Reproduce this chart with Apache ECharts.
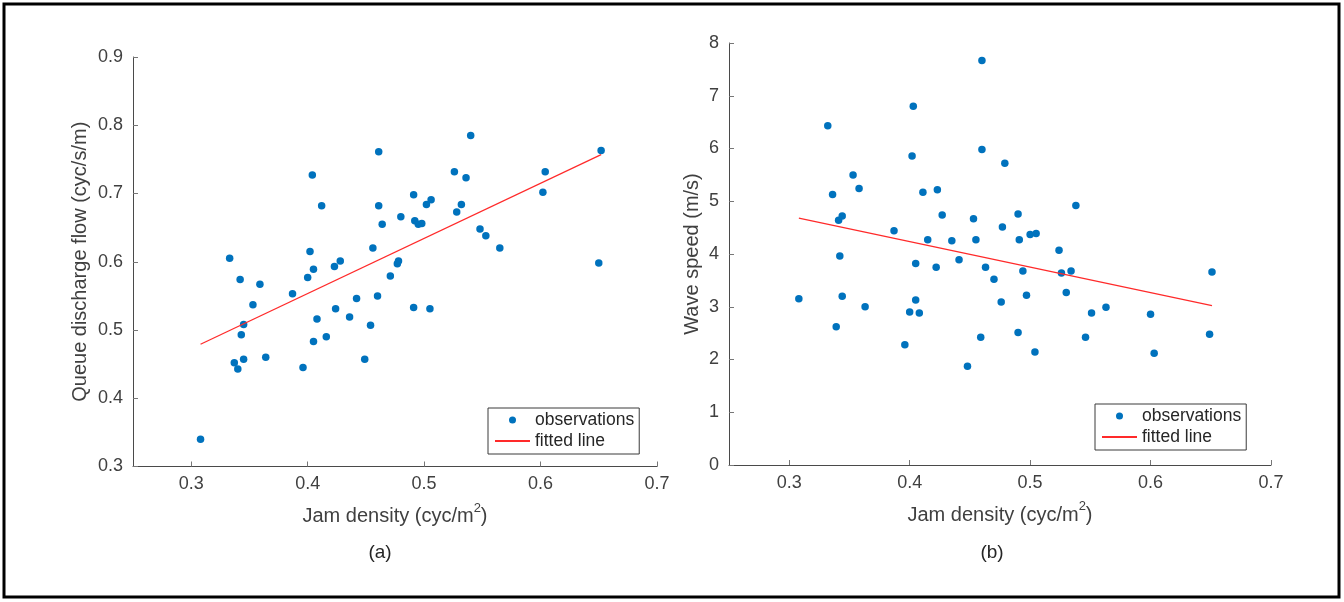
<!DOCTYPE html>
<html>
<head>
<meta charset="utf-8">
<script src="https://cdn.jsdelivr.net/npm/echarts@6/dist/echarts.min.js"></script>
<style>
html,body{margin:0;padding:0;background:#fff;}
#chart{width:1344px;height:602px;}
</style>
</head>
<body>
<div id="chart"></div>
<script>
// ---- data (a): queue discharge flow vs jam density ----
const densityA = [0.308,0.333,0.337,0.340,0.342,0.343,0.345,0.345,0.353,0.359,0.364,0.387,0.396,0.400,0.402,0.404,0.405,0.405,0.408,0.412,0.416,0.423,0.424,0.428,0.436,0.442,0.449,0.454,0.456,0.460,0.461,0.461,0.464,0.471,0.477,0.478,0.480,0.491,0.491,0.492,0.495,0.498,0.502,0.505,0.506,0.526,0.528,0.532,0.536,0.540,0.548,0.553,0.565,0.602,0.604,0.650,0.652];
const flowA    = [0.340,0.605,0.452,0.443,0.574,0.493,0.508,0.457,0.537,0.567,0.460,0.553,0.445,0.577,0.615,0.727,0.589,0.483,0.516,0.682,0.490,0.593,0.531,0.601,0.519,0.546,0.457,0.507,0.620,0.550,0.761,0.682,0.655,0.579,0.597,0.601,0.666,0.533,0.698,0.660,0.655,0.656,0.684,0.531,0.691,0.732,0.673,0.684,0.723,0.785,0.648,0.638,0.620,0.702,0.732,0.598,0.763];
const fitXA = [0.308, 0.652];
const fitYA = [0.479, 0.757];

// ---- data (b): wave speed vs jam density ----
const densityB = [0.308,0.332,0.336,0.339,0.341,0.342,0.344,0.344,0.353,0.358,0.363,0.387,0.396,0.400,0.402,0.403,0.405,0.405,0.408,0.411,0.415,0.422,0.423,0.427,0.435,0.441,0.448,0.453,0.455,0.459,0.460,0.460,0.463,0.470,0.476,0.477,0.479,0.490,0.490,0.491,0.494,0.497,0.500,0.504,0.505,0.524,0.526,0.530,0.534,0.538,0.546,0.551,0.563,0.600,0.603,0.649,0.651];
const speedB   = [3.15,6.43,5.13,2.62,4.64,3.96,4.72,3.20,5.50,5.24,3.00,4.44,2.28,2.90,5.86,6.80,3.82,3.13,2.88,5.17,4.27,3.75,5.22,4.74,4.25,3.89,1.87,4.67,4.27,2.42,7.67,5.98,3.75,3.52,3.09,4.51,5.72,4.76,2.51,4.27,3.68,3.22,4.37,2.14,4.39,4.07,3.64,3.27,3.68,4.92,2.42,2.88,2.99,2.86,2.12,2.48,3.66];
const fitXB = [0.308, 0.651];
const fitYB = [4.68, 3.02];

// ---- ticks / labels ----
const xTicks = [0.3, 0.4, 0.5, 0.6, 0.7];
const xLabel = '{b|Jam density (cyc/m}{sup|2}{b|)}';
const yLabelA = 'Queue discharge flow (cyc/s/m)';
const yLabelB = 'Wave speed (m/s)';
const seriesNames = ['observations', 'fitted line'];
const panelTitles = ['(a)', '(b)'];

const FONT = '"Liberation Sans", Arial, Helvetica, sans-serif';
const AXIS_COLOR = '#4a4a4a';
const TEXT_COLOR = '#404040';
const BLUE = '#0072bd';
const RED = '#ff2a2a';

const zip = (a, b) => a.map((v, i) => [v, b[i]]);

function xAxisDef(gridIndex) {
  return {
    type: 'value', gridIndex, min: 0.25, max: 0.7,
    name: xLabel, nameLocation: 'middle', nameGap: 35,
    nameTextStyle: {fontFamily: FONT, fontSize: 20, color: TEXT_COLOR,
      rich: {
        b: {fontFamily: FONT, fontSize: 20, color: TEXT_COLOR, lineHeight: 25, verticalAlign: 'bottom'},
        sup: {fontFamily: FONT, fontSize: 13, color: TEXT_COLOR, lineHeight: 14, verticalAlign: 'top'}
      }},
    axisLine: {show: true, lineStyle: {color: AXIS_COLOR, width: 1}},
    axisTick: {show: true, inside: true, length: 5, customValues: xTicks, lineStyle: {color: '#777'}},
    axisLabel: {customValues: xTicks, margin: 9, fontFamily: FONT, fontSize: 18, color: TEXT_COLOR,
      formatter: v => v.toFixed(1)},
    splitLine: {show: false}
  };
}
function yAxisDef(gridIndex, min, max, interval, name, gap, digits) {
  return {
    type: 'value', gridIndex, min, max, interval,
    name, nameLocation: 'middle', nameGap: gap,
    nameTextStyle: {fontFamily: FONT, fontSize: 20, color: TEXT_COLOR},
    axisLine: {show: true, lineStyle: {color: AXIS_COLOR, width: 1}},
    axisTick: {show: true, inside: true, length: 5, lineStyle: {color: '#777'}},
    axisLabel: {margin: 10, fontFamily: FONT, fontSize: 18, color: TEXT_COLOR,
      formatter: v => v.toFixed(digits)},
    splitLine: {show: false}
  };
}
function legendDef(left, top) {
  return {
    left, top, orient: 'vertical',
    backgroundColor: '#fff', borderColor: '#3a3a3a', borderWidth: 1,
    padding: [2, 5, 3, 6], itemGap: 1, itemWidth: 35, itemHeight: 7,
    textStyle: {fontFamily: FONT, fontSize: 17.5, color: '#262626', lineHeight: 20},
    data: seriesNames.map(n => ({name: n}))
  };
}

const option = {
  animation: false,
  backgroundColor: '#fff',
  grid: [
    {left: 133, top: 57, width: 524, height: 409.5},
    {left: 729, top: 43, width: 542, height: 422}
  ],
  xAxis: [xAxisDef(0), xAxisDef(1)],
  yAxis: [
    yAxisDef(0, 0.3, 0.9, 0.1, yLabelA, 43, 1),
    yAxisDef(1, 0, 8, 1, yLabelB, 27, 0)
  ],
  legend: [legendDef(488, 408), legendDef(1095, 404)],
  series: [
    {name: seriesNames[0], type: 'scatter', xAxisIndex: 0, yAxisIndex: 0,
     data: zip(densityA, flowA), symbol: 'circle', symbolSize: 7.5,
     itemStyle: {color: BLUE, opacity: 1}},
    {name: seriesNames[1], type: 'line', xAxisIndex: 0, yAxisIndex: 0,
     data: zip(fitXA, fitYA), symbol: 'none', lineStyle: {color: RED, width: 1.2},
     itemStyle: {color: 'rgba(0,0,0,0)', borderColor: 'rgba(0,0,0,0)'}},
    {name: seriesNames[0], type: 'scatter', xAxisIndex: 1, yAxisIndex: 1,
     data: zip(densityB, speedB), symbol: 'circle', symbolSize: 7.5,
     itemStyle: {color: BLUE, opacity: 1}},
    {name: seriesNames[1], type: 'line', xAxisIndex: 1, yAxisIndex: 1,
     data: zip(fitXB, fitYB), symbol: 'none', lineStyle: {color: RED, width: 1.2},
     itemStyle: {color: 'rgba(0,0,0,0)', borderColor: 'rgba(0,0,0,0)'}}
  ],
  graphic: [
    {type: 'rect', shape: {x: 4, y: 4, width: 1335, height: 593},
     style: {fill: 'none', stroke: '#000', lineWidth: 3}, silent: true, z: 100},
    {type: 'text', x: 380, y: 553, style: {text: panelTitles[0], font: '19px ' + FONT, fill: '#262626',
      textAlign: 'center', textVerticalAlign: 'middle'}},
    {type: 'text', x: 992, y: 553, style: {text: panelTitles[1], font: '19px ' + FONT, fill: '#262626',
      textAlign: 'center', textVerticalAlign: 'middle'}}
  ]
};

const chart = echarts.init(document.getElementById('chart'), null, {renderer: 'canvas'});
chart.setOption(option);
</script>
</body>
</html>
